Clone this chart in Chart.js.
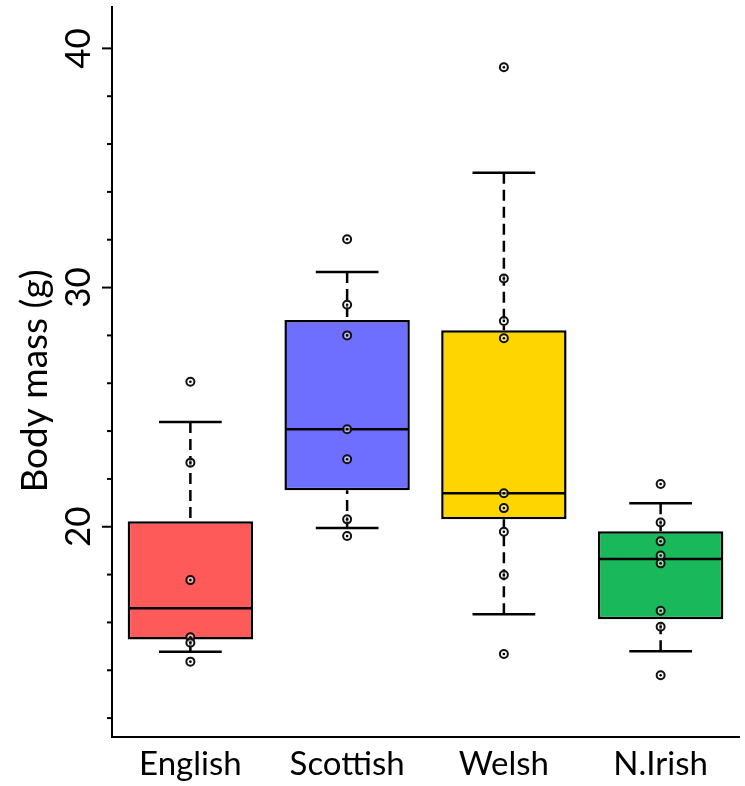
<!DOCTYPE html>
<html><head><meta charset="utf-8">
<script src="https://cdn.jsdelivr.net/npm/chart.js@4.4.1/dist/chart.umd.min.js"></script>
<style>html,body{margin:0;padding:0;background:#fff;} #wrap{width:745px;height:786px;}</style>
</head><body><div id="wrap"><canvas id="c" width="745" height="786"></canvas></div>
<script>
// ---- data ----
const categories = ['English', 'Scottish', 'Welsh', 'N.Irish'];
const q1 = [15.29, 21.53, 20.31, 16.13];
const median = [16.59, 24.08, 21.40, 18.65];
const q3 = [20.23, 28.64, 28.22, 19.81];
const whiskerLow = [14.77, 19.95, 16.34, 14.79];
const whiskerHigh = [24.38, 30.65, 34.80, 20.98];
const english = [26.06, 22.68, 17.77, 15.38, 15.15, 14.36];
const scottish = [32.02, 29.28, 28.00, 24.08, 22.82, 20.31, 19.61];
const welsh = [39.21, 30.38, 28.60, 27.88, 21.40, 20.78, 19.79, 17.98, 14.68];
const nIrish = [21.79, 20.18, 19.39, 18.80, 18.47, 16.49, 15.82, 13.79];
const yTicks = [12, 14, 16, 18, 20, 22, 24, 26, 28, 30, 32, 34, 36, 38, 40];
const yMajorTicks = [20, 30, 40];
const yTitle = 'Body mass (g)';
const yMin = 11.21, yMax = 41.73;
const boxColors = ['#FF5A5A', '#6E6EFF', '#FFD500', '#19B85A'];

const groups = [english, scottish, welsh, nIrish];
const pointData = [];
groups.forEach((g, i) => g.forEach(v => pointData.push({ x: categories[i], y: v })));

const boxPlugin = {
  id: 'boxParts',
  afterDatasetDraw(chart, args) {
    if (args.index !== 0) return;
    const ctx = chart.ctx, xs = chart.scales.x, ys = chart.scales.y;
    const meta = chart.getDatasetMeta(0);
    ctx.save();
    ctx.strokeStyle = '#000';
    ctx.lineWidth = 2.5;
    categories.forEach((c, i) => {
      const x = xs.getPixelForValue(i);
      const w = meta.data[i].width;
      // whiskers (dashed), drawn from whisker end toward box
      ctx.setLineDash([11, 6]);
      ctx.beginPath();
      ctx.moveTo(x, ys.getPixelForValue(whiskerHigh[i]));
      ctx.lineTo(x, ys.getPixelForValue(q3[i]));
      ctx.moveTo(x, ys.getPixelForValue(whiskerLow[i]));
      ctx.lineTo(x, ys.getPixelForValue(q1[i]));
      ctx.stroke();
      ctx.setLineDash([]);
      // caps
      ctx.beginPath();
      [whiskerHigh[i], whiskerLow[i]].forEach(v => {
        const y = ys.getPixelForValue(v);
        ctx.moveTo(x - w / 4, y); ctx.lineTo(x + w / 4, y);
      });
      ctx.stroke();
      // median
      ctx.beginPath();
      const ym = ys.getPixelForValue(median[i]);
      ctx.moveTo(x - w / 2 + 1, ym); ctx.lineTo(x + w / 2 - 1, ym);
      ctx.stroke();
    });
    ctx.restore();
  },
  afterDraw(chart) {
    const ctx = chart.ctx, ys = chart.scales.y;
    const left = chart.chartArea.left;
    ctx.save();
    ctx.strokeStyle = '#000';
    ctx.fillStyle = '#000';
    ctx.lineWidth = 2;
    yTicks.forEach(v => {
      const y = ys.getPixelForValue(v);
      const len = yMajorTicks.includes(v) ? 10 : 5;
      ctx.beginPath(); ctx.moveTo(left - len, y); ctx.lineTo(left, y); ctx.stroke();
    });
    ctx.font = '35px Lato';
    ctx.textAlign = 'center';
    ctx.textBaseline = 'alphabetic';
    yMajorTicks.forEach(v => {
      const y = ys.getPixelForValue(v);
      ctx.save(); ctx.translate(89.5, y); ctx.rotate(-Math.PI / 2);
      ctx.fillText(String(v), 0, 0); ctx.restore();
    });
    ctx.font = '37px Lato';
    ctx.save(); ctx.translate(47, 381); ctx.rotate(-Math.PI / 2);
    ctx.fillText(yTitle, 0, 0); ctx.restore();
    ctx.restore();
  }
};

new Chart(document.getElementById('c'), {
  type: 'bar',
  data: {
    labels: categories,
    datasets: [
      { type: 'bar', data: categories.map((c, i) => [q1[i], q3[i]]), backgroundColor: boxColors,
        borderColor: '#000', borderWidth: 2.5, borderSkipped: false, barPercentage: 0.8, categoryPercentage: 1, order: 3 },
      { type: 'line', data: pointData, showLine: false, pointRadius: 4, pointBorderWidth: 2,
        pointBackgroundColor: 'rgba(255,255,255,0.5)', pointBorderColor: '#111', order: 2 },
      { type: 'line', data: pointData, showLine: false, pointRadius: 1.3, pointBorderWidth: 0,
        pointBackgroundColor: '#000', order: 1 }
    ]
  },
  options: {
    responsive: false, animation: false, events: [],
    layout: { padding: { top: 7, left: 0, right: 0, bottom: 0 } },
    plugins: { legend: { display: false }, tooltip: { enabled: false } },
    scales: {
      x: { type: 'category', grid: { display: false, drawTicks: false },
        border: { display: true, color: '#000', width: 2 },
        ticks: { color: '#000', font: { family: 'Lato', size: 33 }, padding: 8, autoSkip: false, maxRotation: 0 },
        afterFit(s) { s.height = 49; } },
      y: { min: yMin, max: yMax, grid: { display: false, drawTicks: false },
        border: { display: true, color: '#000', width: 2 },
        ticks: { display: false },
        afterFit(s) { s.width = 112; } }
    }
  },
  plugins: [boxPlugin]
});
</script></body></html>
